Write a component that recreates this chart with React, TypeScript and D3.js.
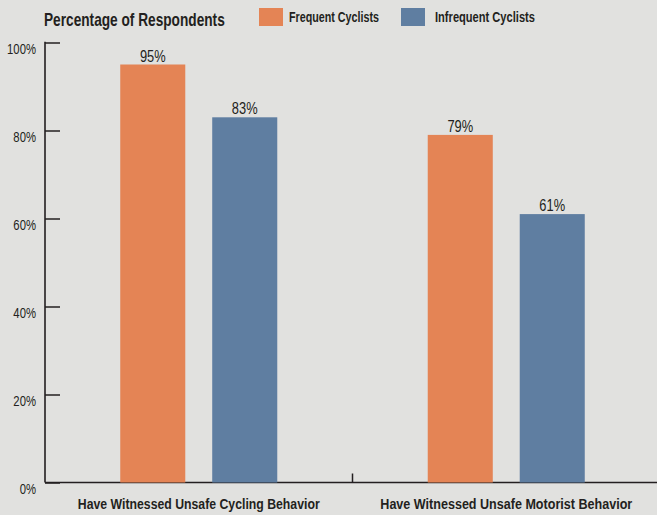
import React, { useEffect, useRef } from 'react';
import * as d3 from 'd3';

const categories = ['Have Witnessed Unsafe Cycling Behavior', 'Have Witnessed Unsafe Motorist Behavior'];
const categoryWidths = [242, 252];
const seriesNames = ['Frequent Cyclists', 'Infrequent Cyclists'];
const legendWidths = [90, 100];
const frequentValues = [95, 79];
const infrequentValues = [83, 61];
const yTicks = [0, 20, 40, 60, 80, 100];
const colors = ['#e48455', '#5f7ea1'];

const FONT = "'Liberation Sans', Arimo, Arial, sans-serif";
const INK = '#231f20';

// squeeze a text horizontally so it spans the given width
function fitWidth(g: any, target: number, cx: number, cy: number) {
  const t = g.select('text').node() as SVGTextElement;
  const w = t.getComputedTextLength() || target;
  g.attr('transform', `translate(${cx},${cy}) scale(${target / w},1)`);
}

const App = () => {
  const chartRef = useRef<SVGSVGElement | null>(null);

  useEffect(() => {
    const width = 657;
    const height = 515;
    const margin = { top: 42.5, right: -3, bottom: 32.5, left: 45 };
    const svg = d3.select(chartRef.current);
    svg.selectAll('*').remove();
    svg.attr('width', width).attr('height', height);

    svg.append('rect').attr('width', width).attr('height', height).attr('fill', '#e1e1df');

    const y = d3.scaleLinear().domain([0, 100]).range([height - margin.bottom, margin.top]);
    const x0 = d3.scaleBand().domain(categories).range([margin.left, width - margin.right]);
    // bars 65 wide, 27 apart, centred in each half
    const x1 = d3.scaleBand().domain(seriesNames).range([0, x0.bandwidth()]).paddingInner(0.293).paddingOuter(0.818);

    // y axis
    const yAxis = svg.append('g').attr('transform', `translate(${margin.left},0)`)
      .call(d3.axisRight(y).tickValues(yTicks).tickSize(15).tickFormat(() => ''));
    yAxis.select('.domain').remove();
    yAxis.selectAll('line').attr('stroke', INK).attr('stroke-width', 1.5);
    svg.append('line')
      .attr('x1', margin.left).attr('x2', margin.left)
      .attr('y1', y(100) - 0.75).attr('y2', y(0))
      .attr('stroke', INK).attr('stroke-width', 1.6);
    svg.append('g').selectAll('g').data(yTicks).enter().append('g')
      .attr('transform', d => `translate(36,${y(d) + 11.5}) scale(0.78,1)`)
      .append('text')
      .attr('text-anchor', 'end')
      .attr('font-family', FONT).attr('font-size', 14.5).attr('fill', INK)
      .text(d => d + '%');

    // x axis
    svg.append('line')
      .attr('x1', margin.left).attr('x2', width)
      .attr('y1', y(0)).attr('y2', y(0))
      .attr('stroke', INK).attr('stroke-width', 1.5);
    svg.append('line')
      .attr('x1', x0(categories[1])).attr('x2', x0(categories[1]))
      .attr('y1', y(0) - 9).attr('y2', y(0))
      .attr('stroke', INK).attr('stroke-width', 1.5);
    categories.forEach((c, i) => {
      const g = svg.append('g');
      g.append('text')
        .attr('text-anchor', 'middle')
        .attr('font-family', FONT).attr('font-weight', 'bold').attr('font-size', 14).attr('fill', INK)
        .text(c);
      fitWidth(g, categoryWidths[i], (x0(c) as number) + x0.bandwidth() / 2, 509);
    });

    // bars
    const rows = categories.map((c, i) => ({ cat: c, vals: [frequentValues[i], infrequentValues[i]] }));
    const gs = svg.append('g').selectAll('g').data(rows).enter().append('g')
      .attr('transform', d => `translate(${x0(d.cat)},0)`);
    gs.selectAll('rect').data(d => d.vals.map((v, j) => ({ v, s: seriesNames[j], j }))).enter().append('rect')
      .attr('x', d => x1(d.s) as number)
      .attr('width', x1.bandwidth())
      .attr('y', d => y(d.v))
      .attr('height', d => y(0) - y(d.v))
      .attr('fill', d => colors[d.j]);
    gs.selectAll('g').data(d => d.vals.map((v, j) => ({ v, s: seriesNames[j] }))).enter().append('g')
      .attr('transform', d => `translate(${(x1(d.s) as number) + x1.bandwidth() / 2},${y(d.v) - 3}) scale(0.78,1)`)
      .append('text')
      .attr('text-anchor', 'middle')
      .attr('font-family', FONT).attr('font-size', 16.5).attr('fill', INK)
      .text(d => d.v + '%');

    // title + legend
    const title = svg.append('g');
    title.append('text')
      .attr('font-family', FONT).attr('font-weight', 'bold').attr('font-size', 18).attr('fill', INK)
      .text('Percentage of Respondents');
    fitWidth(title, 181, 44, 25.7);
    const legendX = [259, 401];
    seriesNames.forEach((s, i) => {
      svg.append('rect').attr('x', legendX[i]).attr('y', 8).attr('width', 24).attr('height', 18).attr('fill', colors[i]);
      const g = svg.append('g');
      g.append('text')
        .attr('font-family', FONT).attr('font-weight', 'bold').attr('font-size', 14.5).attr('fill', INK)
        .text(s);
      fitWidth(g, legendWidths[i], legendX[i] + (i === 0 ? 30 : 34), 22.3);
    });
  }, []);

  return (
    <div style={{ position: 'absolute', left: 0, top: 0 }}>
      <svg ref={chartRef} style={{ display: 'block' }} />
    </div>
  );
};

export default App;
